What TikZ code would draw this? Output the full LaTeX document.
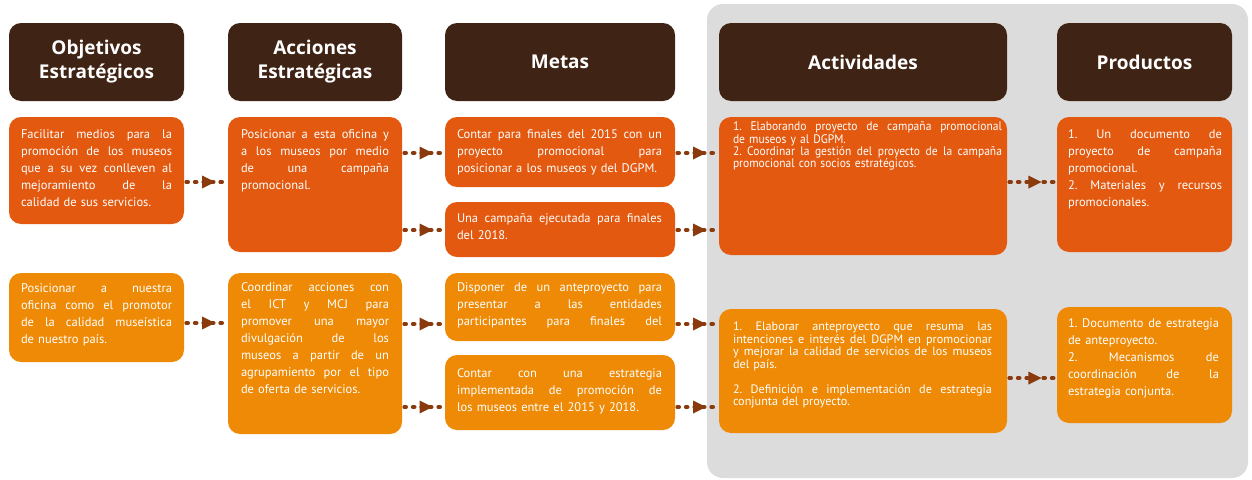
\documentclass[tikz,border=0pt]{standalone}
\usepackage{fontspec}
\setmainfont{PT Sans}
\newfontfamily\hdrfont{Open Sans}
\newfontfamily\condfont{PT Sans}[FakeStretch=0.93]
\usetikzlibrary{arrows.meta,decorations.markings}
\frenchspacing
\definecolor{hdr}{HTML}{3F2314}
\definecolor{ora}{HTML}{E2590F}
\definecolor{orb}{HTML}{EE8A06}
\definecolor{panel}{HTML}{DCDCDC}
\definecolor{arr}{HTML}{8A3A0C}
\newcommand\jlast[1]{\makebox[\hsize][s]{\frenchspacing\spaceskip=0pt\xspaceskip=0pt #1}}
\newcommand\jl[1]{\jlast{#1}\\}
\tikzset{
  box/.style={rounded corners=12pt, inner sep=0pt, draw=none},
  hdrbox/.style={box, fill=hdr, text=white, align=center,
    font=\hdrfont\fontsize{19}{24}\selectfont\bfseries},
  rowa/.style={box, fill=ora},
  rowb/.style={box, fill=orb},
  txt/.style={text=white, inner sep=0pt, anchor=base west, align=left,
    font=\fontsize{12.5}{17}\selectfont},
  smalltxt/.style={txt, font=\fontsize{12.2}{12.5}\selectfont},
  condtxt/.style={txt, font=\condfont\fontsize{12.4}{12.3}\selectfont},
  flow/.style={draw=arr, line width=3.6pt, line cap=round,
    dash pattern=on 2pt off 6.5pt, shorten <=2pt, shorten >=2pt,
    postaction={decorate},
    decoration={markings, mark=at position 0.55 with
      {\fill[arr] (-6pt,-6.5pt) -- (7pt,0pt) -- (-6pt,6.5pt) -- cycle;}}},
}
\newcommand\flowat[3]{\draw[flow] (#1.east |- 0,#3) -- (#2.west |- 0,#3);}
\begin{document}
\begin{tikzpicture}[x=1pt,y=-1pt]
\useasboundingbox (0,0) rectangle (1252,479);
% grey panel
\node[box, fill=panel, rounded corners=16pt, minimum width=541pt, minimum height=474pt] (panel) at (977.5,241) {};
% headers
\node[hdrbox, minimum width=175pt, minimum height=78pt] (h1) at (96.5,62) {Objetivos\\Estratégicos};
\node[hdrbox, minimum width=174pt, minimum height=78pt] (h2) at (315,62) {Acciones\\Estratégicas};
\node[hdrbox, minimum width=230pt, minimum height=78pt] (h3) at (560,62) {Metas};
\node[hdrbox, minimum width=288pt, minimum height=78pt] (h4) at (863,62) {Actividades};
\node[hdrbox, minimum width=175pt, minimum height=78pt] (h5) at (1144.5,62) {Productos};
% row 1 boxes
\node[rowa, minimum width=175pt, minimum height=107pt] (o1) at (96.5,170.5) {};
\node[rowa, minimum width=174pt, minimum height=135pt] (a1) at (315,184.5) {};
\node[rowa, minimum width=230pt, minimum height=70pt] (m1) at (560,152) {};
\node[rowa, minimum width=230pt, minimum height=55pt] (m2) at (560,229.5) {};
\node[rowa, minimum width=288pt, minimum height=138pt] (c1) at (863,186) {};
\node[rowa, minimum width=175pt, minimum height=135pt] (p1) at (1144.5,184.5) {};
% row 2 boxes
\node[rowb, minimum width=175pt, minimum height=89pt] (o2) at (96.5,317.5) {};
\node[rowb, minimum width=174pt, minimum height=161pt] (a2) at (315,353.5) {};
\node[rowb, minimum width=230pt, minimum height=68pt] (m3) at (560,307) {};
\node[rowb, minimum width=230pt, minimum height=75pt] (m4) at (560,392.5) {};
\node[rowb, minimum width=288pt, minimum height=124pt] (c2) at (863,371) {};
\node[rowb, minimum width=175pt, minimum height=116pt] (p2) at (1144.5,365) {};
% texts row 1
\node[txt, text width=151pt] (o1t) at ([shift={(12pt,-22pt)}]o1.north west) {%
\jl{Facilitar medios para la}
\jl{promoción de los museos}
\jl{que a su vez conlleven al}
\jl{mejoramiento de la}
calidad de sus servicios.};
\node[txt, text width=148pt] (a1t) at ([shift={(13pt,-22pt)}]a1.north west) {%
\jl{Posicionar a esta oficina y}
\jl{a los museos por medio}
\jl{de una campaña}
promocional.};
\node[txt, text width=205pt] (m1t) at ([shift={(12pt,-22pt)}]m1.north west) {%
\jl{Contar para finales del 2015 con un}
\jl{proyecto promocional para}
posicionar a los museos y del DGPM.};
\node[txt, text width=205pt] (m2t) at ([shift={(12pt,-21pt)}]m2.north west) {%
\jl{Una campaña ejecutada para finales}
del 2018.};
\node[condtxt, text width=269pt] (c1t) at ([shift={(14pt,-14pt)}]c1.north west) {%
\jl{1. Elaborando proyecto de campaña promocional}
de museos y al DGPM.\\
\jl{2. Coordinar la gestión del proyecto de la campaña}
promocional con socios estratégicos.};
\node[txt, text width=154pt] (p1t) at ([shift={(11pt,-22pt)}]p1.north west) {%
\jl{1. Un documento de}
\jl{proyecto de campaña}
promocional.\\
\jl{2. Materiales y recursos}
promocionales.};
% texts row 2
\node[txt, text width=151pt] (o2t) at ([shift={(12pt,-20pt)}]o2.north west) {%
\jl{Posicionar a nuestra}
\jl{oficina como el promotor}
\jl{de la calidad museística}
de nuestro país.};
\node[txt, text width=148pt] (a2t) at ([shift={(13pt,-19pt)}]a2.north west) {%
\jl{Coordinar acciones con}
\jl{el ICT y MCJ para}
\jl{promover una mayor}
\jl{divulgación de los}
\jl{museos a partir de un}
\jl{agrupamiento por el tipo}
de oferta de servicios.};
\node[txt, text width=205pt] (m3t) at ([shift={(12pt,-19pt)}]m3.north west) {%
\jl{Disponer de un anteproyecto para}
\jl{presentar a las entidades}
\jlast{participantes para finales del}};
\node[txt, text width=205pt] (m4t) at ([shift={(12pt,-23pt)}]m4.north west) {%
\jl{Contar con una estrategia}
\jl{implementada de promoción de}
los museos entre el 2015 y 2018.};
\node[smalltxt, text width=259pt] (c2t) at ([shift={(14pt,-22pt)}]c2.north west) {%
\jl{1. Elaborar anteproyecto que resuma las}
\jl{intenciones e interés del DGPM en promocionar}
\jl{y mejorar la calidad de servicios de los museos}
del país.\\[12.5pt]
\jl{2. Definición e implementación de estrategia}
conjunta del proyecto.};
\node[txt, text width=151pt] (p2t) at ([shift={(11pt,-21pt)}]p2.north west) {%
\jl{1. Documento de estrategia}
de anteproyecto.\\
\jl{2. Mecanismos de}
\jl{coordinación de la}
estrategia conjunta.};
% connectors
\flowat{o1}{a1}{182}
\flowat{a1}{m1}{153}
\flowat{a1}{m2}{230}
\flowat{m1}{c1}{153}
\flowat{m2}{c1}{230}
\flowat{c1}{p1}{182}
\flowat{o2}{a2}{323}
\flowat{a2}{m3}{324}
\flowat{a2}{m4}{407}
\flowat{m3}{c2}{324}
\flowat{m4}{c2}{407}
\flowat{c2}{p2}{378}
\end{tikzpicture}
\end{document}
